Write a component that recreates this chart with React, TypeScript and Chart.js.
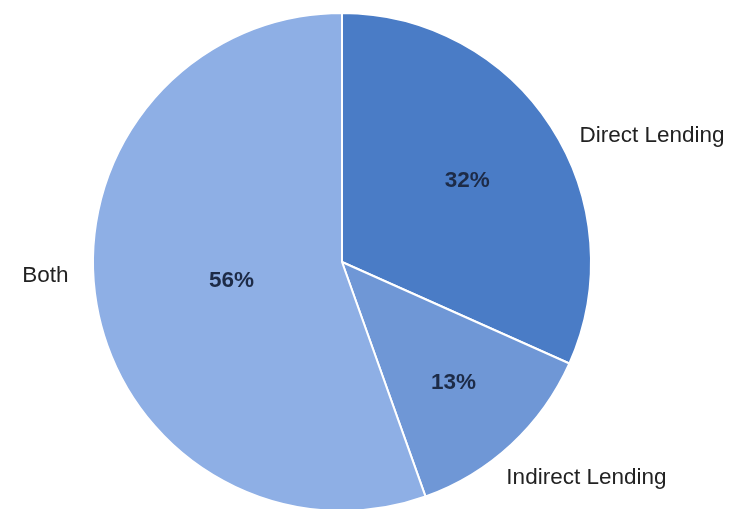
import React, { useEffect, useRef } from "react";
import { Chart, registerables } from "chart.js";

Chart.register(...registerables);

const categories = ["Direct Lending", "Indirect Lending", "Both"];
const shares = [32, 13, 56];
const valueLabels = ["32%", "13%", "56%"];

const sliceColors = ["#4a7cc6", "#6f97d6", "#8eafe5"];
// label placement: fraction of radius for inner %, and outer name placement
const innerRadiusFrac = [0.6, 0.66, 0.45];
const outerPlace = [
  { angleOffset: 5, radiusFrac: 1.08, align: "left" as CanvasTextAlign },
  { angleOffset: 5.5, radiusFrac: 1.09, align: "left" as CanvasTextAlign },
  { angleOffset: 7, radiusFrac: 1.1, align: "right" as CanvasTextAlign },
];

const labelPlugin = {
  id: "pieLabels",
  afterDatasetsDraw(chart: any) {
    const ctx = chart.ctx as CanvasRenderingContext2D;
    const meta = chart.getDatasetMeta(0);
    meta.data.forEach((arc: any, i: number) => {
      const { x, y, startAngle, endAngle, outerRadius } = arc.getProps(
        ["x", "y", "startAngle", "endAngle", "outerRadius"],
        true
      );
      const mid = (startAngle + endAngle) / 2;
      // inner percent label
      const r1 = outerRadius * innerRadiusFrac[i];
      ctx.save();
      ctx.font = "bold 22.5px 'Liberation Sans', Arial, sans-serif";
      ctx.fillStyle = "#1d2b47";
      ctx.textAlign = "center";
      ctx.textBaseline = "middle";
      ctx.fillText(valueLabels[i], x + Math.cos(mid) * r1, y + Math.sin(mid) * r1);
      // outer category label
      const p = outerPlace[i];
      const a = mid + (p.angleOffset * Math.PI) / 180;
      const r2 = outerRadius * p.radiusFrac;
      ctx.font = "22.5px 'Liberation Sans', Arial, sans-serif";
      ctx.fillStyle = "#222222";
      ctx.textAlign = p.align;
      ctx.fillText(categories[i], x + Math.cos(a) * r2, y + Math.sin(a) * r2);
      ctx.restore();
    });
  },
};

export default function App() {
  const ref = useRef<HTMLCanvasElement | null>(null);
  useEffect(() => {
    if (!ref.current) return;
    const chart = new Chart(ref.current, {
      type: "pie",
      data: {
        labels: categories,
        datasets: [
          {
            data: shares,
            backgroundColor: sliceColors,
            borderColor: "#ffffff",
            borderWidth: 2,
          },
        ],
      },
      options: {
        responsive: false,
        animation: false,
        layout: { padding: { left: 92, right: 141, top: 12, bottom: 12 } },
        plugins: {
          legend: { display: false },
          tooltip: { enabled: false },
        },
      },
      plugins: [labelPlugin],
    });
    return () => chart.destroy();
  }, []);
  return (
    <div
      style={{
        position: "absolute",
        left: 0,
        top: 0,
        width: 733,
        height: 509,
        overflow: "hidden",
        background: "#ffffff",
      }}
    >
      <canvas ref={ref} width={733} height={524} style={{ display: "block" }} />
    </div>
  );
}
